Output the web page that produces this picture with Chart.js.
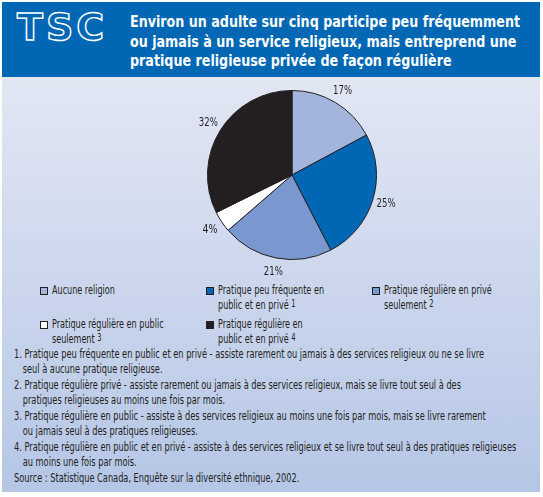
<!DOCTYPE html>
<html>
<head>
<meta charset="utf-8">
<script src="https://cdn.jsdelivr.net/npm/chart.js@4.4.0/dist/chart.umd.min.js"></script>
<style>
  body{margin:0;width:543px;height:497px;background:#fff;overflow:hidden;font-family:"DejaVu Sans Condensed","DejaVu Sans",sans-serif;color:#231f20;}
  #box{position:absolute;left:2px;top:2px;width:538px;height:490px;background:linear-gradient(#e4e9f5 0px,#e1e6f3 80px,#cfd9ee 250px,#b5c6e6 490px);}
  #head{position:absolute;left:2px;top:2px;width:538px;height:75px;background:#0067b4;}
  #logo{position:absolute;left:15px;top:3px;font-family:"DejaVu Sans";font-weight:bold;font-size:38px;letter-spacing:3px;color:transparent;-webkit-text-stroke:1.4px #fff;}
  #title{position:absolute;left:128px;top:10px;color:#fff;font-weight:bold;font-size:16px;line-height:19.5px;white-space:nowrap;transform-origin:0 0;}
  #chartWrap{position:absolute;left:162px;top:80px;width:260px;height:200px;}
  #legend{position:absolute;left:0;top:283px;width:543px;height:62px;}
  .item{position:absolute;font-size:12px;line-height:15px;white-space:nowrap;}
  .item i{position:absolute;left:-12px;top:4px;width:6px;height:6px;border:1px solid #231f20;}
  .item span{display:inline-block;transform-origin:0 0;}
  .item sup{font-size:10px;line-height:0;vertical-align:2px;}
  #notes{position:absolute;left:14px;top:347px;font-size:11.5px;line-height:15px;white-space:nowrap;transform-origin:0 0;}
  #notes div.n{margin-bottom:1px;}
  #notes .c{padding-left:11px;}
</style>
</head>
<body>
<div id="box"></div>
<div id="head"><div id="logo">TSC</div>
<div id="title"><span id="t1">Environ un adulte sur cinq participe peu fréquemment</span><br>ou jamais à un service religieux, mais entreprend une<br>pratique religieuse privée de façon régulière</div></div>
<div id="chartWrap"><canvas id="myChart" width="260" height="200"></canvas></div>
<div id="legend"></div>
<div id="notes"></div>
<script>
// categories (line break where the legend wraps)
const labels=['Aucune religion','Pratique peu fréquente en\npublic et en privé','Pratique régulière en privé\nseulement','Pratique régulière en public\nseulement','Pratique régulière en\npublic et en privé'];
const noteRefs=['','1','2','3','4'];
const values=[17,25,21,4,32];
const colors=['#a3b4dd','#0067b4','#7a98cf','#ffffff','#231f20'];
const notes=[
  ['1. Pratique peu fréquente en public et en privé - assiste rarement ou jamais à des services religieux ou ne se livre','seul à aucune pratique religieuse.'],
  ['2. Pratique régulière privé - assiste rarement ou jamais à des services religieux, mais se livre tout seul à des','pratiques religieuses au moins une fois par mois.'],
  ['3. Pratique régulière en public - assiste à des services religieux au moins une fois par mois, mais se livre rarement','ou jamais seul à des pratiques religieuses.'],
  ['4. Pratique régulière en public et en privé - assiste à des services religieux et se livre tout seul à des pratiques religieuses','au moins une fois par mois.']
];
const source='Source : Statistique Canada, Enquête sur la diversité ethnique, 2002.';

// squeeze an element horizontally so that ref gets the wanted width
function fitX(el,ref,want){
  const w=ref.getBoundingClientRect().width;
  el.style.transform='scaleX('+(want/w)+')';
}

// legend, 3 columns
const legX=[52,218,384];
const legY=[0,34];
let lh='';
for(let i=0;i<labels.length;i++){
  const x=legX[i%3], y=legY[Math.floor(i/3)];
  const txt=labels[i].replace('\n','<br>')+(noteRefs[i]?' <sup>'+noteRefs[i]+'</sup>':'');
  lh+=`<div class="item" style="left:${x}px;top:${y}px"><i style="background:${colors[i]}"></i><span>${txt}</span></div>`;
}
document.getElementById('legend').innerHTML=lh;

let nh='';
notes.forEach((n,i)=>{nh+='<div class="n"><span'+(i==0?' id="n1"':'')+'>'+n[0]+'</span><br><span class="c">'+n[1]+'</span></div>';});
nh+='<div>'+source+'</div>';
document.getElementById('notes').innerHTML=nh;

fitX(document.getElementById('title'),document.getElementById('t1'),390);
fitX(document.getElementById('notes'),document.getElementById('n1'),470);
const spans=document.querySelectorAll('.item span');
const probe=document.createElement('span');
probe.style.cssText='position:absolute;visibility:hidden;font-size:12px;white-space:nowrap';
probe.textContent='Pratique peu fréquente en';
document.body.appendChild(probe);
const k=106/probe.getBoundingClientRect().width;
probe.remove();
spans.forEach(s=>{s.style.transform='scaleX('+k+')';});

// percent labels outside the slices
const pctLabels={
  id:'pctLabels',
  afterDatasetsDraw(chart){
    const ctx=chart.ctx;
    const meta=chart.getDatasetMeta(0);
    ctx.save();
    ctx.font='12px "DejaVu Sans Condensed","DejaVu Sans",sans-serif';
    ctx.fillStyle='#231f20';
    ctx.textAlign='center';
    ctx.textBaseline='middle';
    meta.data.forEach((arc,i)=>{
      const mid=(arc.startAngle+arc.endAngle)/2;
      const r=arc.outerRadius+14;
      ctx.fillText(values[i]+'%',arc.x+Math.cos(mid)*r,arc.y+Math.sin(mid)*r,values[i]<10?15:19);
    });
    ctx.restore();
  }
};

var myChart=document.getElementById('myChart').getContext('2d');
var chart=new Chart(myChart,{
  type:'pie',
  data:{
    labels:labels,
    datasets:[{
      data:values,
      backgroundColor:colors,
      borderColor:'#231f20',
      borderWidth:1
    }]
  },
  options:{
    responsive:false,
    animation:false,
    layout:{padding:{left:45,right:45,top:10,bottom:20}},
    plugins:{legend:{display:false},tooltip:{enabled:false}}
  },
  plugins:[pctLabels]
});
</script>
</body>
</html>
